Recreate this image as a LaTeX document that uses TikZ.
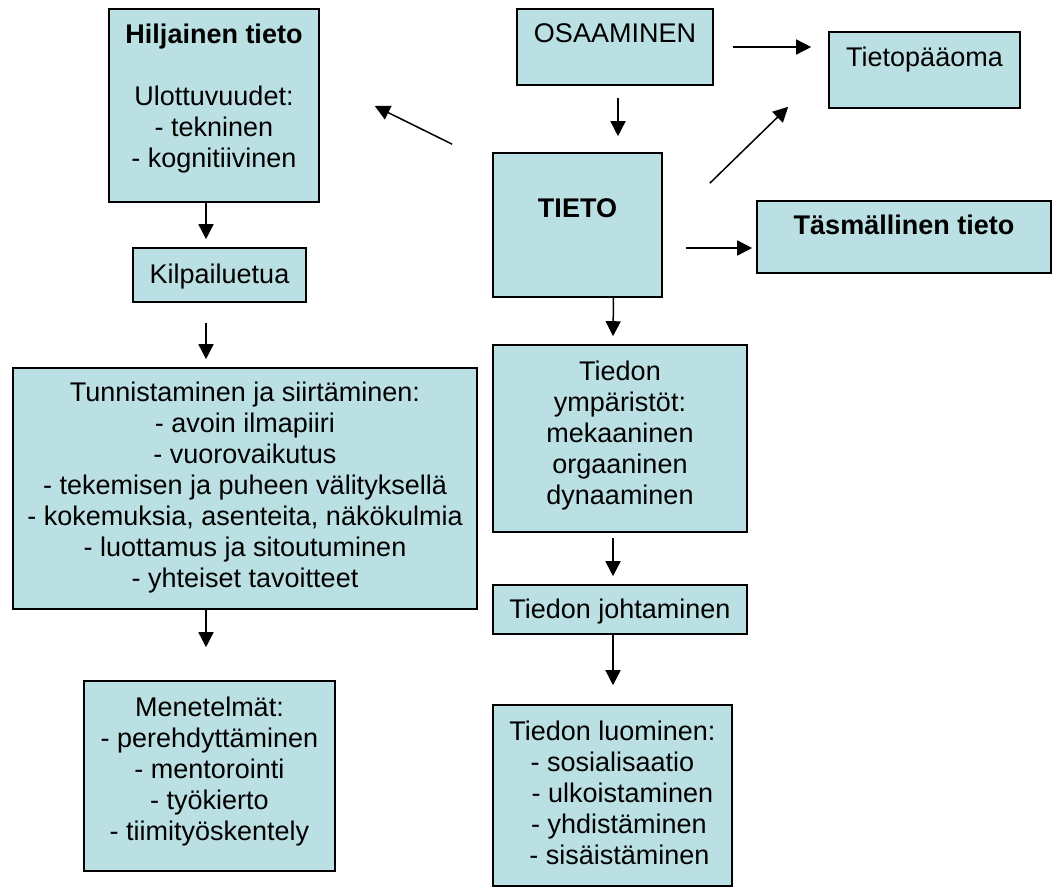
\documentclass[tikz,border=0pt]{standalone}
\usepackage{fontspec}
\setmainfont{Liberation Sans}
\usepackage{tikz}
\usetikzlibrary{calc,arrows.meta,positioning}
\definecolor{boxfill}{HTML}{BBE0E3}
\definecolor{ink}{HTML}{000000}
\newcommand{\boxfont}{\fontsize{27}{31}\selectfont}
\tikzset{
  box/.style={draw=ink, fill=boxfill, line width=1.6pt, inner sep=0pt},
  txt/.style={text=ink, font=\boxfont, align=center, inner sep=0pt},
  arr/.style={draw=ink, line width=1.5pt, -{Triangle[length=15pt,width=15pt]}},
}

\begin{document}
\begin{tikzpicture}[x=1pt,y=-1pt]
  \useasboundingbox (0,0) rectangle (1053,892);
  % boxes
  \node[box, minimum width=210pt, minimum height=193pt] (hilj) at (214,105.5) {};
  \node[box, minimum width=196pt, minimum height=76pt] (osaa) at (615,47) {};
  \node[box, minimum width=191pt, minimum height=76pt] (tp) at (924.5,70) {};
  \node[box, minimum width=169pt, minimum height=144pt] (tieto) at (577.5,225) {};
  \node[box, minimum width=294pt, minimum height=72pt] (tasm) at (904,237) {};
  \node[box, minimum width=173pt, minimum height=54pt] (kilp) at (219.5,275) {};
  \node[box, minimum width=464pt, minimum height=241pt] (tunn) at (245,488.5) {};
  \node[box, minimum width=254pt, minimum height=187pt] (ymp) at (620,438.5) {};
  \node[box, minimum width=254pt, minimum height=49pt] (joht) at (620,609.5) {};
  \node[box, minimum width=251pt, minimum height=190pt] (menet) at (209.5,776) {};
  \node[box, minimum width=239pt, minimum height=181pt] (luom) at (612.5,795.5) {};
  % texts
  \node[txt, below=16pt of hilj.north] (hilj-t) {\textbf{Hiljainen tieto}\\[31pt]Ulottuvuudet:\\- tekninen\\- kognitiivinen};
  \node[txt, below=15pt of osaa.north] (osaa-t) {OSAAMINEN};
  \node[txt, below=16pt of tp.north] (tp-t) {Tietopääoma};
  \node[txt, below=46pt of tieto.north] (tieto-t) {\textbf{TIETO}};
  \node[txt, below=15pt of tasm.north] (tasm-t) {\textbf{Täsmällinen tieto}};
  \node[txt, below=17pt of kilp.north] (kilp-t) {Kilpailuetua};
  \node[txt, below=15pt of tunn.north] (tunn-t) {Tunnistaminen ja siirtäminen:\\- avoin ilmapiiri\\- vuorovaikutus\\- tekemisen ja puheen välityksellä\\- kokemuksia, asenteita, näkökulmia\\- luottamus ja sitoutuminen\\- yhteiset tavoitteet};
  \node[txt, below=17pt of ymp.north] (ymp-t) {Tiedon\\ympäristöt:\\mekaaninen\\orgaaninen\\dynaaminen};
  \node[txt, below=15pt of joht.north] (joht-t) {Tiedon johtaminen};
  \node[txt, below=17pt of menet.north] (menet-t) {Menetelmät:\\- perehdyttäminen\\- mentorointi\\- työkierto\\- tiimityöskentely};
  \node[txt, below=17pt of luom.north] (luom-t) {Tiedon luominen:\\- sosialisaatio\\\hspace*{20pt}- ulkoistaminen\\\hspace*{13pt}- yhdistäminen\\\hspace*{14pt}- sisäistäminen};
  % arrows
  \draw[arr] ($(osaa.east)+(19,0)$) -- ($(tp.west)+(-17,-23)$);
  \draw[arr] ($(osaa.south)+(3,12)$) -- ($(tieto.north)+(40.5,-16)$);
  \draw[arr] ($(tieto.north west)+(-40,-8)$) -- ($(hilj.east)+(55,0.5)$);
  \draw[arr] ($(tieto.north east)+(47,31)$) -- ($(tp.south west)+(-40,-2)$);
  \draw[arr] ($(tieto.east)+(23,23)$) -- ($(tasm.west)+(-4,11)$);
  \draw[arr] ($(tieto.south)+(36,0)$) -- ($(ymp.north)+(-7,-8)$);
  \draw[arr] ($(ymp.south)+(-7,5)$) -- ($(joht.north)+(-7,-8)$);
  \draw[arr] ($(joht.south)+(-7,0)$) -- ($(luom.north)+(0.5,-19)$);
  \draw[arr] ($(hilj.south)+(-8,0)$) -- ($(kilp.north)+(-13.5,-8)$);
  \draw[arr] ($(kilp.south)+(-13.5,20)$) -- ($(tunn.north)+(-39,-8)$);
  \draw[arr] ($(tunn.south)+(-39,0)$) -- ($(menet.north)+(-3.5,-33)$);
\end{tikzpicture}
\end{document}
